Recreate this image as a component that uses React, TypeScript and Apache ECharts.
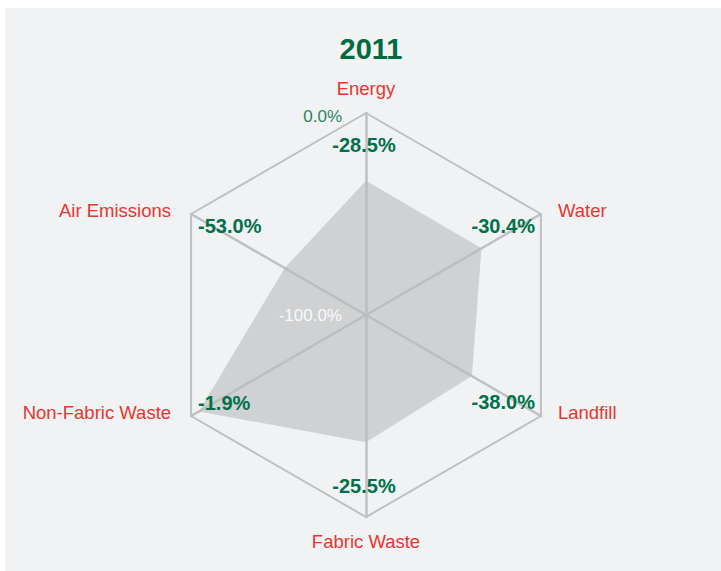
import React, { useEffect, useRef } from "react";
import * as echarts from "echarts";

const title = "2011";
// indicators listed counter-clockwise from top (ECharts radar order)
const categories = ["Energy", "Air Emissions", "Non-Fabric Waste", "Fabric Waste", "Landfill", "Water"];
// values as drawn by the shaded polygon
const values = [-33.5, -53.5, -4.5, -37.0, -39.5, -34.0];
// values printed as labels at each corner
const labelValues = [-28.5, -53.0, -1.9, -25.5, -38.0, -30.4];
const axisMin = -100;
const axisMax = 0;

const CX = 361;
const CY = 307;
const R = 202;

const nameStyle: Record<string, string> = {
  Energy: "c",
  "Fabric Waste": "c",
  Water: "ru",
  Landfill: "rd",
  "Air Emissions": "lu",
  "Non-Fabric Waste": "ld",
};

export default function App() {
  const ref = useRef<HTMLDivElement>(null);
  useEffect(() => {
    if (!ref.current) return;
    const chart = echarts.init(ref.current, undefined, { renderer: "svg" });
    const font = "'Liberation Sans', Arial, sans-serif";
    const nameBase = { color: "#e8352e", fontSize: 18.5, fontFamily: font };
    chart.setOption({
      animation: false,
      backgroundColor: "#f1f2f4",
      title: {
        text: title,
        left: CX,
        textAlign: "center",
        top: 21,
        textStyle: { color: "#006b3f", fontSize: 29, fontWeight: "bold", fontFamily: font },
      },
      radar: [
        {
          center: [CX, CY],
          radius: R,
          startAngle: 90,
          splitNumber: 1,
          shape: "polygon",
          nameGap: 15,
          axisName: {
            ...nameBase,
            formatter: (n: string) => "{" + (nameStyle[n] || "c") + "|" + n + "}",
            rich: {
              c: { ...nameBase },
              ru: { ...nameBase, padding: [8, 0, 0, 4] },
              rd: { ...nameBase, padding: [0, 0, 22, 4] },
              lu: { ...nameBase, padding: [8, 7, 0, 0] },
              ld: { ...nameBase, padding: [0, 7, 22, 0] },
            },
          },
          axisLine: { lineStyle: { color: "#bfc0c2", width: 2.5 } },
          splitLine: { lineStyle: { color: "#bfc0c2", width: 2 } },
          splitArea: { show: false },
          axisTick: { show: false },
          axisLabel: { show: false },
          indicator: categories.map((name) => ({ name, min: axisMin, max: axisMax })),
        },
        {
          z: 10,
          center: [CX, CY],
          radius: R,
          startAngle: 90,
          splitNumber: 1,
          shape: "polygon",
          axisName: { show: false },
          axisLine: { show: false },
          splitLine: { show: false },
          splitArea: { show: false },
          axisTick: { show: false },
          axisLabel: { show: false },
          indicator: categories.map((name, i) => ({
            name,
            min: axisMin,
            max: axisMax,
            axisLabel:
              i === 0
                ? {
                    show: true,
                    margin: 24,
                    fontFamily: font,
                    formatter: (v: number) => (v >= 0 ? "{g|" : "{w|") + Number(v).toFixed(1) + "%}",
                    rich: {
                      g: { color: "#2f8560", fontSize: 17, fontFamily: font, padding: [6, 0, 0, 0] },
                      w: { color: "#ffffff", fontSize: 17, fontFamily: font, opacity: 0.9 },
                    },
                  }
                : { show: false },
          })),
        },
      ],
      series: [
        {
          type: "radar",
          radarIndex: 0,
          symbol: "circle",
          symbolSize: 2,
          itemStyle: { color: "transparent" },
          lineStyle: { width: 0 },
          areaStyle: { color: "#b9babd", opacity: 0.6 },
          label: {
            show: true,
            color: "#00704a",
            fontSize: 20,
            fontWeight: "bold",
            fontFamily: font,
            formatter: (p: any) => {
              const i = values.indexOf(Number(p.value));
              const v = i >= 0 ? labelValues[i] : Number(p.value);
              return v.toFixed(1) + "%";
            },
          },
          labelLayout: (p: any) => {
            const px = p.rect.x + p.rect.width / 2;
            const py = p.rect.y + p.rect.height / 2;
            const dx = px - CX;
            const dy = py - CY;
            const len = Math.hypot(dx, dy) || 1;
            const vx = CX + (dx / len) * R;
            const vy = CY + (dy / len) * R;
            if (Math.abs(dx) < 2) {
              return { x: vx - 2, y: vy + (dy < 0 ? 32 : -31), align: "center", verticalAlign: "middle" };
            }
            if (dx > 0) {
              return { x: vx - 6, y: vy + (dy < 0 ? 12 : -14), align: "right", verticalAlign: "middle" };
            }
            return { x: vx + 7, y: vy + (dy < 0 ? 12 : -13), align: "left", verticalAlign: "middle" };
          },
          data: [{ value: values, name: title }],
        },
      ],
    });
    return () => chart.dispose();
  }, []);
  return (
    <div
      ref={ref}
      style={{ position: "absolute", left: 5, top: 8, width: 716, height: 563 }}
    />
  );
}
